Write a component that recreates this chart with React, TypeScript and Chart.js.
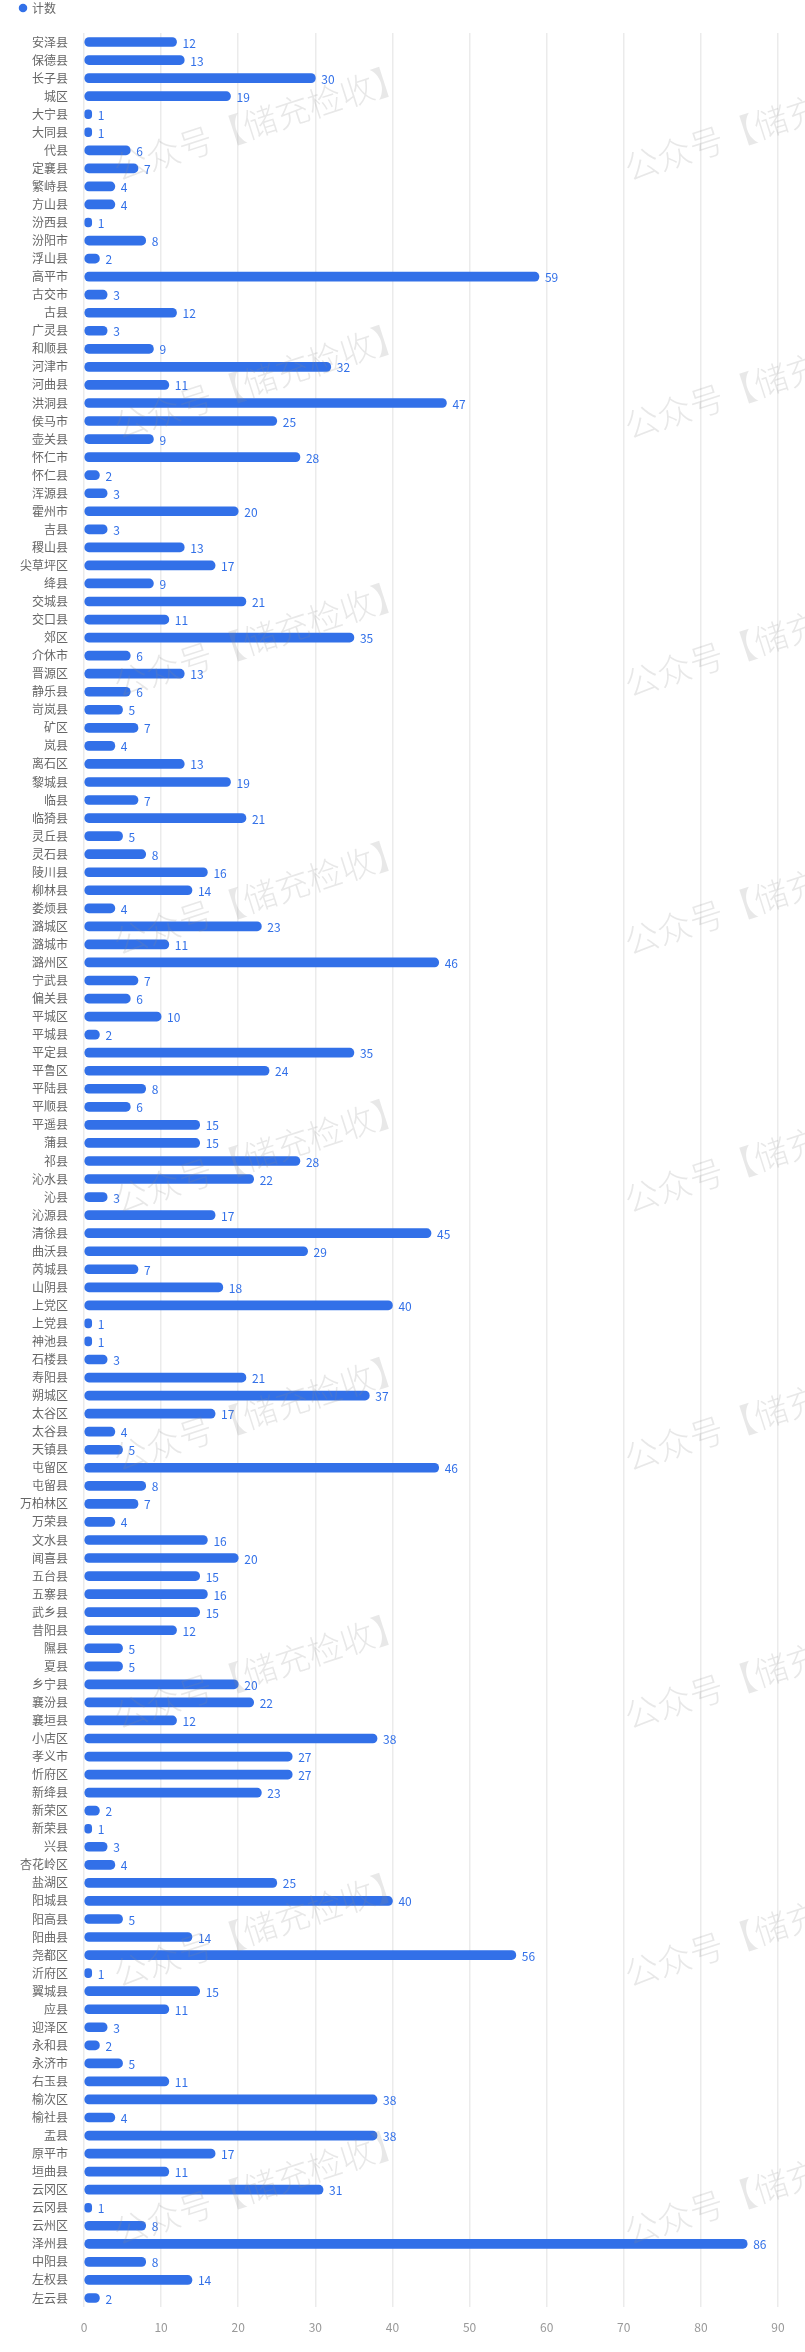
import Chart from 'chart.js/auto'
import React, { useEffect, useRef } from 'react'

const seriesName = '计数'

const counties = [
  '安泽县', '保德县', '长子县', '城区', '大宁县', '大同县', '代县', '定襄县', '繁峙县', '方山县',
  '汾西县', '汾阳市', '浮山县', '高平市', '古交市', '古县', '广灵县', '和顺县', '河津市', '河曲县',
  '洪洞县', '侯马市', '壶关县', '怀仁市', '怀仁县', '浑源县', '霍州市', '吉县', '稷山县', '尖草坪区',
  '绛县', '交城县', '交口县', '郊区', '介休市', '晋源区', '静乐县', '岢岚县', '矿区', '岚县',
  '离石区', '黎城县', '临县', '临猗县', '灵丘县', '灵石县', '陵川县', '柳林县', '娄烦县', '潞城区',
  '潞城市', '潞州区', '宁武县', '偏关县', '平城区', '平城县', '平定县', '平鲁区', '平陆县', '平顺县',
  '平遥县', '蒲县', '祁县', '沁水县', '沁县', '沁源县', '清徐县', '曲沃县', '芮城县', '山阴县',
  '上党区', '上党县', '神池县', '石楼县', '寿阳县', '朔城区', '太谷区', '太谷县', '天镇县', '屯留区',
  '屯留县', '万柏林区', '万荣县', '文水县', '闻喜县', '五台县', '五寨县', '武乡县', '昔阳县', '隰县',
  '夏县', '乡宁县', '襄汾县', '襄垣县', '小店区', '孝义市', '忻府区', '新绛县', '新荣区', '新荣县',
  '兴县', '杏花岭区', '盐湖区', '阳城县', '阳高县', '阳曲县', '尧都区', '沂府区', '翼城县', '应县',
  '迎泽区', '永和县', '永济市', '右玉县', '榆次区', '榆社县', '盂县', '原平市', '垣曲县', '云冈区',
  '云冈县', '云州区', '泽州县', '中阳县', '左权县', '左云县'
]

const counts = [
  12, 13, 30, 19, 1, 1, 6, 7, 4, 4,
  1, 8, 2, 59, 3, 12, 3, 9, 32, 11,
  47, 25, 9, 28, 2, 3, 20, 3, 13, 17,
  9, 21, 11, 35, 6, 13, 6, 5, 7, 4,
  13, 19, 7, 21, 5, 8, 16, 14, 4, 23,
  11, 46, 7, 6, 10, 2, 35, 24, 8, 6,
  15, 15, 28, 22, 3, 17, 45, 29, 7, 18,
  40, 1, 1, 3, 21, 37, 17, 4, 5, 46,
  8, 7, 4, 16, 20, 15, 16, 15, 12, 5,
  5, 20, 22, 12, 38, 27, 27, 23, 2, 1,
  3, 4, 25, 40, 5, 14, 56, 1, 15, 11,
  3, 2, 5, 11, 38, 4, 38, 17, 11, 31,
  1, 8, 86, 8, 14, 2
]

const xMax = 90
const xStep = 10

const watermarkText = '公众号【储充检收】'

const BLUE = 'rgb(50, 112, 232)'
const FONT = '"Noto Sans CJK SC", "Noto Sans", sans-serif'

// value at the end of each bar
const valueLabels = {
  id: 'valueLabels',
  afterDatasetsDraw(chart: any) {
    const ctx = chart.ctx
    const meta = chart.getDatasetMeta(0)
    ctx.save()
    ctx.font = `12px ${FONT}`
    ctx.fillStyle = BLUE
    ctx.textAlign = 'left'
    ctx.textBaseline = 'middle'
    meta.data.forEach((bar: any, i: number) => {
      ctx.fillText(String(chart.data.datasets[0].data[i]), bar.x + 6, bar.y + 1)
    })
    ctx.restore()
  }
}

const watermark = {
  id: 'watermark',
  afterDraw(chart: any) {
    const ctx = chart.ctx
    ctx.save()
    ctx.font = `300 34px ${FONT}`
    ctx.fillStyle = 'rgba(140, 140, 140, 0.2)'
    ctx.textAlign = 'center'
    ctx.textBaseline = 'middle'
    for (let j = 0; j < 9; j++) {
      for (let i = 0; i < 2; i++) {
        ctx.save()
        ctx.translate(260 + 511 * i, 122 + 258 * j)
        ctx.rotate((-18 * Math.PI) / 180)
        ctx.fillText(watermarkText, 0, 0)
        ctx.restore()
      }
    }
    ctx.restore()
  }
}

// legend takes a fixed band at the top
const legendBand = {
  id: 'legendBand',
  beforeInit(chart: any) {
    const legend = chart.legend
    if (!legend) return
    const fit = legend.fit
    legend.fit = function () {
      fit.call(this)
      this.height = 33
    }
  }
}

const CountChart: React.FC = () => {
  const chartRef = useRef<Chart | null>(null)
  const canvasRef = useRef<HTMLCanvasElement | null>(null)

  useEffect(() => {
    document.body.style.margin = '0'
    if (canvasRef.current) {
      if (chartRef.current) {
        chartRef.current.destroy()
      }

      chartRef.current = new Chart(canvasRef.current, {
        type: 'bar',
        data: {
          labels: counties,
          datasets: [
            {
              label: seriesName,
              data: counts,
              backgroundColor: BLUE,
              borderRadius: 5,
              borderSkipped: false,
              barThickness: 9
            }
          ]
        },
        plugins: [legendBand, valueLabels, watermark],
        options: {
          indexAxis: 'y',
          animation: false,
          responsive: false,
          devicePixelRatio: 1,
          layout: {
            padding: { left: 18, right: 27, top: 0, bottom: 0 }
          },
          plugins: {
            legend: {
              display: true,
              position: 'top',
              align: 'start',
              labels: {
                usePointStyle: true,
                pointStyle: 'circle',
                boxWidth: 6,
                boxHeight: 6,
                padding: 2,
                color: '#666',
                font: { family: FONT, size: 12 }
              }
            },
            tooltip: { enabled: false }
          },
          scales: {
            x: {
              min: 0,
              max: xMax,
              ticks: {
                stepSize: xStep,
                padding: 13,
                color: '#999',
                font: { family: FONT, size: 12 }
              },
              grid: {
                color: '#ebebeb',
                lineWidth: 1.5,
                drawTicks: false
              },
              border: { display: false },
              afterFit(scale: any) {
                scale.height = 45
              }
            },
            y: {
              ticks: {
                autoSkip: false,
                padding: 16,
                color: '#666',
                font: { family: FONT, size: 12 }
              },
              grid: { display: false, drawTicks: false },
              border: { display: false },
              afterFit(scale: any) {
                scale.width = 66
              }
            }
          }
        }
      })
    }

    return () => {
      if (chartRef.current) {
        chartRef.current.destroy()
        chartRef.current = null
      }
    }
  }, [])

  return (
    <div style={{ width: 805, height: 2352 }}>
      <canvas ref={canvasRef} width={805} height={2352}></canvas>
    </div>
  )
}

export default function App() {
  return <CountChart />
}
